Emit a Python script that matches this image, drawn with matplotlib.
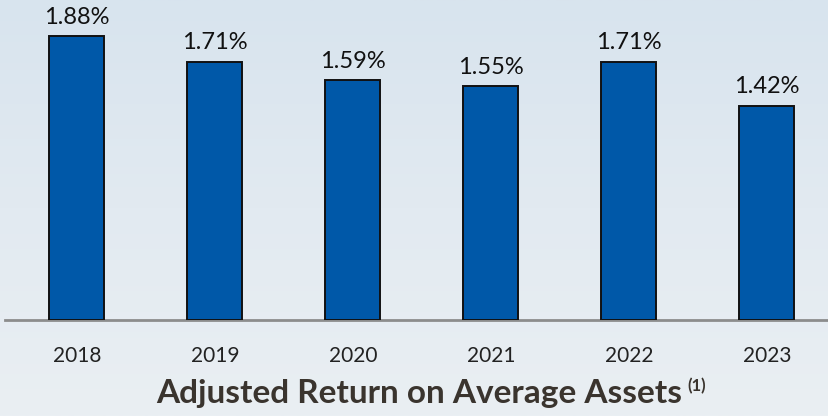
import matplotlib
matplotlib.use("Agg")
import matplotlib.pyplot as plt
import numpy as np
from matplotlib.colors import LinearSegmentedColormap

years = ["2018", "2019", "2020", "2021", "2022", "2023"]
values = [1.88, 1.71, 1.59, 1.55, 1.71, 1.42]
labels = ["1.88%", "1.71%", "1.59%", "1.55%", "1.71%", "1.42%"]
title = "Adjusted Return on Average Assets"
title_note = "(1)"

W, H = 829, 416
fig = plt.figure(figsize=(W / 100, H / 100), dpi=100)

# background gradient
bg = fig.add_axes([0, 0, 1, 1], zorder=-10)
cmap = LinearSegmentedColormap.from_list("bg", ["#d8e4ee", "#e2eaf1", "#eaeff3"])
grad = np.linspace(0, 1, 256).reshape(-1, 1)
bg.imshow(grad, aspect="auto", cmap=cmap, extent=[0, 1, 0, 1], origin="upper")
bg.axis("off")

ax = fig.add_axes([5 / W, (H - 320) / H, 1 - 5 / W, 320 / H])
ax.patch.set_alpha(0)
x = np.arange(len(years))
ax.bar(x, values, width=0.4, color="#0058a8", edgecolor="#111111", linewidth=1.4, zorder=3)
ax.set_xlim(-0.52, 5.45)
ax.set_ylim(0, 320 / 151)
for s in ["top", "right", "left"]:
    ax.spines[s].set_visible(False)
ax.spines["bottom"].set_color("#8c8c8c")
ax.spines["bottom"].set_linewidth(2)
ax.set_yticks([])
ax.set_xticks(x)
ax.set_xticklabels(years, fontfamily="Lato", fontsize=15, color="#222222")
ax.tick_params(axis="x", length=0, pad=19)

for xi, v, lab in zip(x, values, labels):
    ax.annotate(lab, (xi, v), xytext=(0, 6), textcoords="offset points",
                ha="center", va="bottom", fontfamily="Lato", fontsize=17, color="#111111")

t = fig.text(419 / W, (H - 393) / H, title, ha="center", va="center",
             fontfamily="Lato", fontweight="bold", fontsize=24, color="#3a342e")
fig.canvas.draw()
bb = t.get_window_extent()
fig.text((bb.x1 + 5) / W, (bb.y1 + 1) / H, title_note, ha="left", va="top",
         fontfamily="Lato", fontweight="bold", fontsize=12, color="#3a342e")

fig.savefig("out.png", dpi=100)
